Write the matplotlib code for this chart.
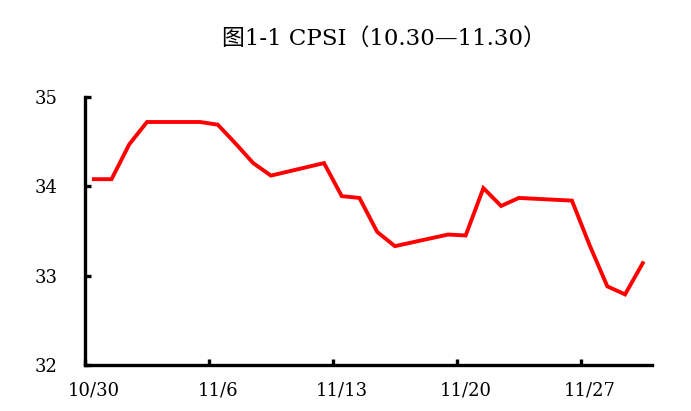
import numpy as np
import matplotlib.pyplot as plt

# trading days (days after 10/30) and CPSI values
days = [0, 1, 2, 3, 6, 7, 8, 9, 10, 13, 14, 15, 16, 17, 20, 21, 22, 23, 24, 27, 28, 29, 30, 31]
cpsi = [34.08, 34.08, 34.47, 34.72, 34.72, 34.69, 34.48, 34.26, 34.12, 34.26, 33.89, 33.87,
        33.49, 33.33, 33.46, 33.45, 33.98, 33.78, 33.87, 33.84, 33.34, 32.88, 32.79, 33.14]
label_days = [0, 7, 14, 21, 28]
tick_labels = ['10/30', '11/6', '11/13', '11/20', '11/27']
yticks = [32, 33, 34, 35]

fig = plt.figure(figsize=(6.91, 4.11), dpi=100)
ax = fig.add_axes([0.123, 0.112, 0.82, 0.652])

ax.plot(days, cpsi, color='#ff0000', lw=2.8, solid_joinstyle='miter')

ax.set_xlim(-0.5, 31.5)
ax.set_ylim(32, 35)
ax.set_yticks(yticks)
ax.set_xticks(label_days)
ax.set_xticklabels(tick_labels)
ax.set_xticks([d - 0.5 for d in label_days], minor=True)

for s in ['top', 'right']:
    ax.spines[s].set_visible(False)
for s in ['left', 'bottom']:
    ax.spines[s].set_linewidth(2.4)

ax.tick_params(axis='x', which='major', length=0, pad=12)
ax.tick_params(axis='x', which='minor', direction='in', length=4, width=2.4)
ax.tick_params(axis='y', direction='in', length=4, width=2.4, pad=20)
for lab in ax.get_xticklabels() + ax.get_yticklabels():
    lab.set_family('DejaVu Serif')
    lab.set_fontsize(13)

fig.text(0.556, 0.905, '图1-1 CPSI（10.30—11.30）', ha='center', va='center',
         fontsize=16.5, family=['DejaVu Serif', 'Noto Sans CJK SC'])

fig.savefig('out.png', dpi=100)
